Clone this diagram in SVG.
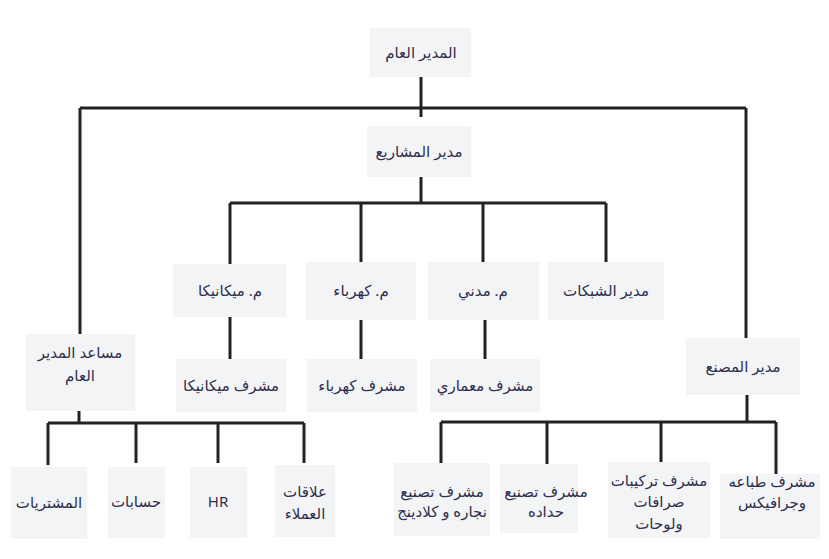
<svg xmlns="http://www.w3.org/2000/svg" width="829" height="559" viewBox="0 0 829 559">
<style>
.b{fill:#f3f4f6;}
.t{font-family:"Noto Sans","DejaVu Sans",sans-serif;font-size:15px;fill:#2e2e4f;text-anchor:middle;}
.c{stroke:#222;stroke-width:3;fill:none;stroke-linecap:butt;}
</style>
<rect width="829" height="559" fill="#ffffff"/>
<g id="connectors" class="c">
<path d="M421 77V117M80 108H746M80 108V334M746 108V338"/>
<path d="M421 177V203M230 203H606M230 203V264M361 203V262M483 203V262M606 203V262"/>
<path d="M230 317V359M361 320V359M485 320V359"/>
<path d="M79 411V423M48 423H304M48 423V465M136 423V463M218 423V463M304 423V463"/>
<path d="M747 395V422M441 422H776M441 422V463M547 422V464M661 422V462M776 422V474"/>
</g>
<g id="gm"><rect class="b" x="370" y="28" width="101" height="49"/><text class="t" x="421" y="58">المدير العام</text></g>
<g id="pm"><rect class="b" x="367" y="126" width="104" height="51"/><text class="t" x="419" y="157">مدير المشاريع</text></g>
<g id="mech"><rect class="b" x="173" y="264" width="113" height="53"/><text class="t" x="230" y="296">م. ميكانيكا</text></g>
<g id="elec"><rect class="b" x="306" y="262" width="110" height="58"/><text class="t" x="361" y="296">م. كهرباء</text></g>
<g id="civil"><rect class="b" x="428" y="262" width="111" height="58"/><text class="t" x="483" y="296">م. مدني</text></g>
<g id="net"><rect class="b" x="548" y="262" width="116" height="58"/><text class="t" x="606" y="296">مدير الشبكات</text></g>
<g id="smech"><rect class="b" x="176" y="359" width="110" height="53"/><text class="t" x="231" y="391">مشرف ميكانيكا</text></g>
<g id="selec"><rect class="b" x="307" y="359" width="110" height="53"/><text class="t" x="362" y="391">مشرف كهرباء</text></g>
<g id="sarch"><rect class="b" x="430" y="359" width="110" height="53"/><text class="t" x="485" y="391">مشرف معماري</text></g>
<g id="agm"><rect class="b" x="26" y="334" width="109" height="77"/><text class="t" x="80" y="358">مساعد المدير</text><text class="t" x="80" y="381">العام</text></g>
<g id="factory"><rect class="b" x="686" y="338" width="114" height="57"/><text class="t" x="743" y="372">مدير المصنع</text></g>
<g id="purch"><rect class="b" x="11" y="467" width="76" height="72"/><text class="t" x="49" y="508">المشتريات</text></g>
<g id="acc"><rect class="b" x="108" y="467" width="57" height="71"/><text class="t" x="136" y="507">حسابات</text></g>
<g id="hr"><rect class="b" x="190" y="467" width="57" height="71"/><text class="t" x="218" y="507">HR</text></g>
<g id="cr"><rect class="b" x="275" y="465" width="60" height="72"/><text class="t" x="305" y="497">علاقات</text><text class="t" x="305" y="519">العملاء</text></g>
<g id="carp"><rect class="b" x="394" y="463" width="96" height="73"/><text class="t" x="442" y="497">مشرف تصنيع</text><text class="t" x="442" y="517">نجاره و كلادينج</text></g>
<g id="smith"><rect class="b" x="500" y="464" width="78" height="69"/><text class="t" x="546" y="497">مشرف تصنيع</text><text class="t" x="546" y="517">حداده</text></g>
<g id="inst"><rect class="b" x="608" y="462" width="102" height="76"/><text class="t" x="659" y="486">مشرف تركيبات</text><text class="t" x="659" y="507">صرافات</text><text class="t" x="659" y="529">ولوحات</text></g>
<g id="print"><rect class="b" x="720" y="474" width="100" height="65"/><text class="t" x="772" y="487">مشرف طباعه</text><text class="t" x="772" y="508">وجرافيكس</text></g>
</svg>
